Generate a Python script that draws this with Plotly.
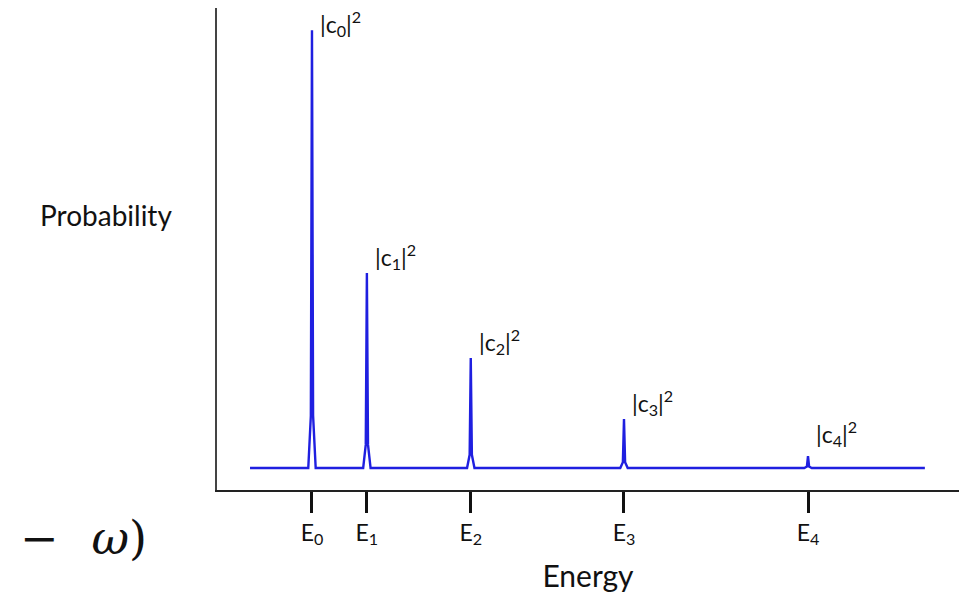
import plotly.graph_objects as go

# ---- data ----
energies = [1.28, 2.02, 3.42, 5.485, 7.965]          # E0..E4 positions on the energy axis
peak_tops = [0.954, 0.450, 0.274, 0.147, 0.0705]      # height of each spike
baseline = 0.0456                                     # flat level of the curve
curve_start = 0.445
curve_end = 9.54
tick_labels = ["E<sub>0</sub>", "E<sub>1</sub>", "E<sub>2</sub>", "E<sub>3</sub>", "E<sub>4</sub>"]
peak_labels = ["|c<sub>0</sub>|<sup>2</sup>", "|c<sub>1</sub>|<sup>2</sup>", "|c<sub>2</sub>|<sup>2</sup>",
               "|c<sub>3</sub>|<sup>2</sup>", "|c<sub>4</sub>|<sup>2</sup>"]

# ---- build the spiky line from the values ----
HW = 0.05  # half width of a spike base (style)
xs, ys = [curve_start], [baseline]
for e, h in zip(energies, peak_tops):
    xs += [e - HW, e - HW * 0.3, e, e + HW * 0.3, e + HW]
    ys += [baseline, baseline + (h - baseline) * 0.12, h, baseline + (h - baseline) * 0.12, baseline]
xs.append(curve_end)
ys.append(baseline)

FONT = "Lato"
fig = go.Figure()
fig.add_trace(go.Scatter(x=xs, y=ys, mode="lines",
                         line=dict(color="#1f1fe0", width=2.4),
                         hoverinfo="skip", showlegend=False))

label_shift = [-12, -2, -2, -2, 4]
for e, h, t, s in zip(energies, peak_tops, peak_labels, label_shift):
    fig.add_annotation(x=e, y=h, text=t, showarrow=False, xanchor="left", yanchor="bottom",
                       xshift=6, yshift=s, font=dict(family=FONT, size=23, color="#111"))

fig.add_annotation(xref="paper", yref="paper", x=-0.149, y=0.57, text="Probability",
                   showarrow=False, xanchor="center", yanchor="middle",
                   font=dict(family=FONT, size=28, color="#111"))

# formula fragment at bottom-left
fig.add_annotation(xref="paper", yref="paper", x=-0.268, y=-0.1,
                   text="− \u2009\u2009<i>ω</i>)",
                   showarrow=False, xanchor="left", yanchor="middle",
                   font=dict(family="DejaVu Serif", size=46, color="#111"))

fig.update_layout(
    width=966, height=595,
    margin=dict(l=217, r=7, t=8, b=105),
    paper_bgcolor="white", plot_bgcolor="white",
    font=dict(family=FONT, color="#111"),
    xaxis=dict(range=[0, 10], showgrid=False, zeroline=False,
               showline=True, linecolor="#222", linewidth=2,
               tickmode="array", tickvals=energies, ticktext=tick_labels,
               ticks="outside", ticklen=21, tickwidth=3, tickcolor="#111",
               tickfont=dict(family=FONT, size=23, color="#111"),
               title=dict(text="Energy", font=dict(family=FONT, size=30, color="#111"), standoff=19)),
    yaxis=dict(range=[0, 1], showgrid=False, zeroline=False,
               showline=True, linecolor="#444", linewidth=2,
               showticklabels=False, ticks=""),
)

fig.write_html("out.html")
